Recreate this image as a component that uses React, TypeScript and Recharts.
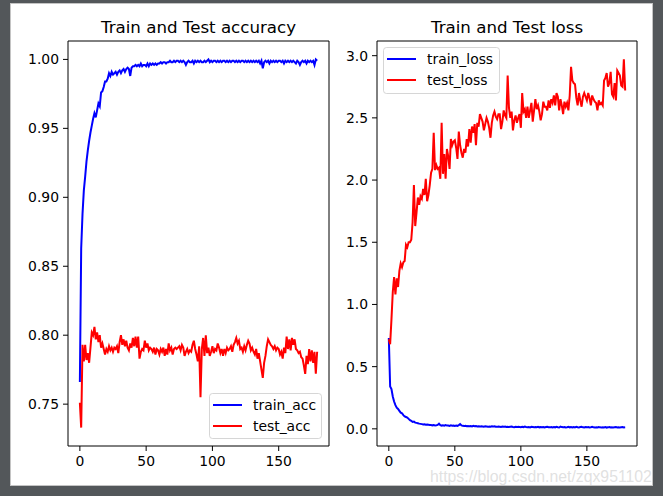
import React from 'react';
import { LineChart, Line, XAxis, YAxis, ReferenceArea } from 'recharts';

// ---------- data ----------
const trainAcc = [
  0.766, 0.863, 0.888, 0.905, 0.915, 0.926, 0.934, 0.941, 0.947, 0.952,
  0.957, 0.961, 0.958, 0.963, 0.968, 0.966, 0.976, 0.977, 0.980, 0.984,
  0.984, 0.986, 0.990, 0.988, 0.991, 0.989, 0.990, 0.991, 0.989, 0.991,
  0.992, 0.990, 0.992, 0.993, 0.991, 0.993, 0.994, 0.993, 0.988, 0.994,
  0.995, 0.995, 0.996, 0.995, 0.996, 0.995, 0.997, 0.995, 0.996, 0.996,
  0.995, 0.997, 0.995, 0.997, 0.996, 0.997, 0.996, 0.997, 0.996, 0.997,
  0.997, 0.998, 0.997, 0.998, 0.998, 0.997, 0.998, 0.998, 0.999, 0.998,
  0.998, 0.999, 0.998, 0.999, 0.999, 0.998, 0.999, 0.998, 0.999, 0.998,
  0.996, 0.998, 0.999, 0.998, 0.998, 0.999, 0.997, 0.999, 0.998, 0.999,
  0.998, 0.999, 0.998, 0.998, 0.999, 0.998, 0.999, 1.000, 0.998, 0.999,
  0.998, 0.999, 0.999, 0.998, 0.999, 0.998, 0.999, 0.998, 0.999, 0.999,
  0.998, 0.999, 0.998, 0.999, 0.998, 0.999, 0.999, 0.998, 0.999, 0.998,
  0.999, 0.998, 0.999, 0.999, 0.998, 0.999, 0.998, 0.999, 0.998, 0.999,
  0.998, 0.999, 0.998, 0.999, 0.998, 0.999, 0.997, 0.999, 0.9935, 0.998,
  0.999, 0.998, 0.999, 0.997, 0.999, 0.998, 0.999, 0.998, 0.999, 0.998,
  0.999, 0.999, 0.998, 0.999, 0.997, 0.999, 0.998, 0.999, 0.998, 0.999,
  0.998, 0.999, 0.998, 0.997, 0.999, 0.998, 0.996, 0.998, 0.999, 0.998,
  0.999, 0.997, 0.999, 0.998, 0.999, 0.998, 0.999, 0.996, 1.000, 0.999,
];

const testAcc = [
  0.751, 0.733, 0.793, 0.781, 0.793, 0.782, 0.787, 0.780, 0.791, 0.802,
  0.800, 0.806, 0.797, 0.802, 0.795, 0.800, 0.791, 0.794, 0.790, 0.786,
  0.790, 0.788, 0.792, 0.789, 0.791, 0.788, 0.791, 0.790, 0.792, 0.787,
  0.795, 0.800, 0.793, 0.797, 0.792, 0.796, 0.791, 0.789, 0.794, 0.791,
  0.798, 0.792, 0.799, 0.791, 0.799, 0.783, 0.788, 0.790, 0.789, 0.796,
  0.791, 0.794, 0.789, 0.791, 0.790, 0.788, 0.791, 0.786, 0.790, 0.789,
  0.786, 0.790, 0.788, 0.791, 0.785, 0.790, 0.786, 0.794, 0.789, 0.791,
  0.786, 0.790, 0.791, 0.790, 0.791, 0.792, 0.789, 0.793, 0.791, 0.785,
  0.788, 0.790, 0.787, 0.789, 0.788, 0.793, 0.796, 0.790, 0.786, 0.781,
  0.792, 0.755, 0.790, 0.798, 0.785, 0.800, 0.787, 0.791, 0.785, 0.788,
  0.792, 0.787, 0.790, 0.789, 0.794, 0.791, 0.787, 0.790, 0.785, 0.790,
  0.787, 0.791, 0.789, 0.790, 0.792, 0.788, 0.793, 0.795, 0.798, 0.794,
  0.796, 0.790, 0.791, 0.788, 0.792, 0.789, 0.793, 0.796, 0.794, 0.789,
  0.791, 0.788, 0.786, 0.790, 0.783, 0.787, 0.781, 0.775, 0.769, 0.780,
  0.785, 0.792, 0.797, 0.795, 0.793, 0.792, 0.790, 0.792, 0.789, 0.791,
  0.790, 0.786, 0.788, 0.783, 0.791, 0.787, 0.799, 0.790, 0.797, 0.789,
  0.798, 0.793, 0.797, 0.790, 0.789, 0.787, 0.788, 0.784, 0.783, 0.778,
  0.772, 0.785, 0.779, 0.790, 0.781, 0.789, 0.780, 0.788, 0.772, 0.788,
];

const trainLoss = [
  0.73, 0.34, 0.32, 0.26, 0.22, 0.19, 0.17, 0.16, 0.145, 0.13,
  0.125, 0.11, 0.10, 0.095, 0.09, 0.08, 0.07, 0.065, 0.055, 0.058,
  0.050, 0.048, 0.045, 0.042, 0.040, 0.038, 0.035, 0.037, 0.033, 0.034,
  0.032, 0.030, 0.031, 0.028, 0.030, 0.027, 0.029, 0.032, 0.042, 0.030,
  0.026, 0.028, 0.025, 0.030, 0.026, 0.027, 0.024, 0.028, 0.025, 0.027,
  0.023, 0.026, 0.024, 0.030, 0.038, 0.027, 0.024, 0.022, 0.025, 0.021,
  0.023, 0.020, 0.022, 0.019, 0.024, 0.021, 0.023, 0.019, 0.020, 0.018,
  0.021, 0.019, 0.017, 0.020, 0.018, 0.016, 0.019, 0.017, 0.020, 0.018,
  0.021, 0.017, 0.016, 0.019, 0.017, 0.015, 0.018, 0.016, 0.019, 0.015,
  0.017, 0.014, 0.016, 0.018, 0.015, 0.013, 0.016, 0.014, 0.017, 0.015,
  0.013, 0.016, 0.014, 0.018, 0.015, 0.013, 0.015, 0.012, 0.016, 0.014,
  0.012, 0.015, 0.013, 0.016, 0.012, 0.014, 0.013, 0.015, 0.011, 0.014,
  0.016, 0.013, 0.012, 0.015, 0.011, 0.014, 0.012, 0.016, 0.013, 0.011,
  0.018, 0.014, 0.012, 0.015, 0.011, 0.013, 0.016, 0.012, 0.014, 0.011,
  0.015, 0.012, 0.017, 0.013, 0.011, 0.014, 0.016, 0.012, 0.011, 0.014,
  0.012, 0.015, 0.011, 0.013, 0.016, 0.012, 0.010, 0.013, 0.011, 0.015,
  0.012, 0.010, 0.013, 0.011, 0.014, 0.010, 0.012, 0.015, 0.011, 0.013,
  0.010, 0.012, 0.014, 0.011, 0.013, 0.010, 0.012, 0.014, 0.011, 0.012,
];

const testLoss = [
  0.72, 0.68, 0.88, 1.10, 1.22, 1.08, 1.21, 1.14, 1.27, 1.33,
  1.30, 1.34, 1.35, 1.48, 1.46, 1.50, 1.50, 1.52, 1.66, 1.96,
  1.63, 1.74, 1.86, 1.80, 1.87, 1.85, 1.93, 1.88, 2.01, 1.83,
  1.88, 1.96, 2.06, 2.09, 2.38, 2.08, 2.12, 2.09, 2.10, 2.01,
  2.46, 2.05, 2.21, 2.01, 2.25, 2.19, 2.09, 2.33, 2.28, 2.31,
  2.32, 2.26, 2.17, 2.39, 2.28, 2.22, 2.18, 2.25, 2.22, 2.33,
  2.27, 2.41, 2.30, 2.43, 2.38, 2.45, 2.28, 2.46, 2.43, 2.53,
  2.50, 2.47, 2.40, 2.45, 2.50, 2.47, 2.42, 2.34, 2.46, 2.52,
  2.55, 2.51, 2.49, 2.53, 2.53, 2.41, 2.47, 2.56, 2.52, 2.50,
  2.84, 2.58, 2.50, 2.55, 2.40, 2.48, 2.52, 2.46, 2.50, 2.53,
  2.42, 2.70, 2.55, 2.57, 2.50, 2.59, 2.50, 2.56, 2.62, 2.47,
  2.56, 2.65, 2.57, 2.60, 2.55, 2.48, 2.53, 2.63, 2.59, 2.59,
  2.56, 2.64, 2.58, 2.65, 2.62, 2.68, 2.60, 2.70, 2.67, 2.56,
  2.65, 2.60, 2.53, 2.63, 2.59, 2.62, 2.56, 2.68, 2.91, 2.80,
  2.78, 2.77, 2.66, 2.60, 2.70, 2.64, 2.59, 2.67, 2.70, 2.67,
  2.64, 2.70, 2.66, 2.60, 2.68, 2.65, 2.63, 2.62, 2.56, 2.64,
  2.61, 2.62, 2.60, 2.80, 2.82, 2.86, 2.75, 2.78, 2.87, 2.69,
  2.67, 2.78, 2.64, 2.88, 2.86, 2.84, 2.76, 2.75, 2.97, 2.72,
];

const epochs = trainAcc.map((_, i) => i);
const xTicks = [0, 50, 100, 150];
const accTicks = [0.75, 0.8, 0.85, 0.9, 0.95, 1.0];
const lossTicks = [0, 0.5, 1.0, 1.5, 2.0, 2.5, 3.0];

const titles = ['Train and Test accuracy', 'Train and Test loss'];
const accLegend = ['train_acc', 'test_acc'];
const lossLegend = ['train_loss', 'test_loss'];
const watermark = 'https://blog.csdn.net/zqx951102';

// ---------- derived tables ----------
const accData = epochs.map((e, i) => ({ epoch: e, train_acc: trainAcc[i], test_acc: testAcc[i] }));
const lossData = epochs.map((e, i) => ({ epoch: e, train_loss: trainLoss[i], test_loss: testLoss[i] }));

const withMargin = (vals: number[]): [number, number] => {
  const lo = Math.min(...vals);
  const hi = Math.max(...vals);
  const pad = (hi - lo) * 0.05;
  return [lo - pad, hi + pad];
};
const xDomain = withMargin(epochs);
const accDomain = withMargin([...trainAcc, ...testAcc]);
const lossDomain = withMargin([...trainLoss, ...testLoss]);

const FONT = "'DejaVu Sans', sans-serif";
const tickStyle = { fill: '#000', fontSize: 13.9, fontFamily: FONT };
const BLUE = '#0000ff';
const RED = '#ff0000';

function Panel(props: {
  data: any[];
  keys: [string, string];
  yDomain: [number, number];
  yTicks: number[];
  digits: number;
  yWidth: number;
  marginRight: number;
}) {
  const { data, keys, yDomain, yTicks, digits, yWidth, marginRight } = props;
  return (
    <LineChart width={320} height={480} data={data} margin={{ top: 37, right: marginRight, bottom: 0, left: 0 }}>
      <XAxis
        dataKey="epoch"
        type="number"
        domain={xDomain}
        ticks={xTicks}
        interval={0}
        allowDataOverflow
        axisLine={false}
        stroke="#000"
        tickLine={{ stroke: '#000', strokeWidth: 1 }}
        tick={tickStyle}
        tickSize={5}
        tickMargin={5}
        height={38}
      />
      <YAxis
        type="number"
        domain={yDomain}
        ticks={yTicks}
        interval={0}
        allowDataOverflow
        axisLine={false}
        stroke="#000"
        tickLine={{ stroke: '#000', strokeWidth: 1 }}
        tick={tickStyle}
        tickSize={5}
        tickMargin={4}
        width={yWidth}
        tickFormatter={(v: number) => v.toFixed(digits)}
      />
      <Line type="linear" dataKey={keys[0]} stroke={BLUE} strokeWidth={2} dot={false} activeDot={false} isAnimationActive={false} />
      <Line type="linear" dataKey={keys[1]} stroke={RED} strokeWidth={2} dot={false} activeDot={false} isAnimationActive={false} />
      <ReferenceArea
        x1={xDomain[0]}
        x2={xDomain[1]}
        y1={yDomain[0]}
        y2={yDomain[1]}
        fill="none"
        fillOpacity={0}
        stroke="#000"
        strokeWidth={1}
        strokeOpacity={1}
        ifOverflow="visible"
      />
    </LineChart>
  );
}

function LegendBox(props: { x: number; y: number; w: number; h: number; labels: string[] }) {
  const { x, y, w, h, labels } = props;
  const colors = [BLUE, RED];
  return (
    <g>
      <rect x={x + 0.5} y={y + 0.5} width={w} height={h} rx={3} fill="#fff" fillOpacity={0.8} stroke="#cccccc" strokeOpacity={0.8} />
      {labels.map((lab, i) => (
        <g key={lab}>
          <line x1={x + 4} x2={x + 33} y1={y + 12 + i * 21} y2={y + 12 + i * 21} stroke={colors[i]} strokeWidth={2} />
          <text x={x + 44} y={y + 17 + i * 21} fontSize={13.9} fontFamily={FONT} fill="#000">
            {lab}
          </text>
        </g>
      ))}
    </g>
  );
}

export default function App() {
  return (
    <div style={{ position: 'fixed', left: 0, top: 0, width: 663, height: 496, background: '#53575a', overflow: 'hidden' }}>
      <div
        style={{
          position: 'absolute',
          left: 10,
          top: 3,
          width: 643,
          height: 483,
          background: '#fff',
          border: '1px solid #c4c4c4',
          boxSizing: 'border-box',
        }}
      />
      <div style={{ position: 'absolute', left: 11, top: 4 }}>
        <Panel data={accData} keys={['train_acc', 'test_acc']} yDomain={accDomain} yTicks={accTicks} digits={2} yWidth={57} marginRight={2} />
      </div>
      <div style={{ position: 'absolute', left: 331, top: 4 }}>
        <Panel data={lossData} keys={['train_loss', 'test_loss']} yDomain={lossDomain} yTicks={lossTicks} digits={1} yWidth={46} marginRight={14} />
      </div>
      <svg width={663} height={496} style={{ position: 'absolute', left: 0, top: 0, pointerEvents: 'none' }}>
        <text x={198.5} y={32.5} textAnchor="middle" fontSize={16.67} fontFamily={FONT} fill="#000">
          {titles[0]}
        </text>
        <text x={507} y={32.5} textAnchor="middle" fontSize={16.67} fontFamily={FONT} fill="#000">
          {titles[1]}
        </text>
        <LegendBox x={209} y={393} w={112} h={45} labels={accLegend} />
        <LegendBox x={383} y={47} w={116} h={46} labels={lossLegend} />
        <text x={430} y={482} fontSize={15.8} fontFamily="'Liberation Sans', Arial, sans-serif" fill="#d0d0d0" fillOpacity={0.65}>
          {watermark}
        </text>
      </svg>
    </div>
  );
}
